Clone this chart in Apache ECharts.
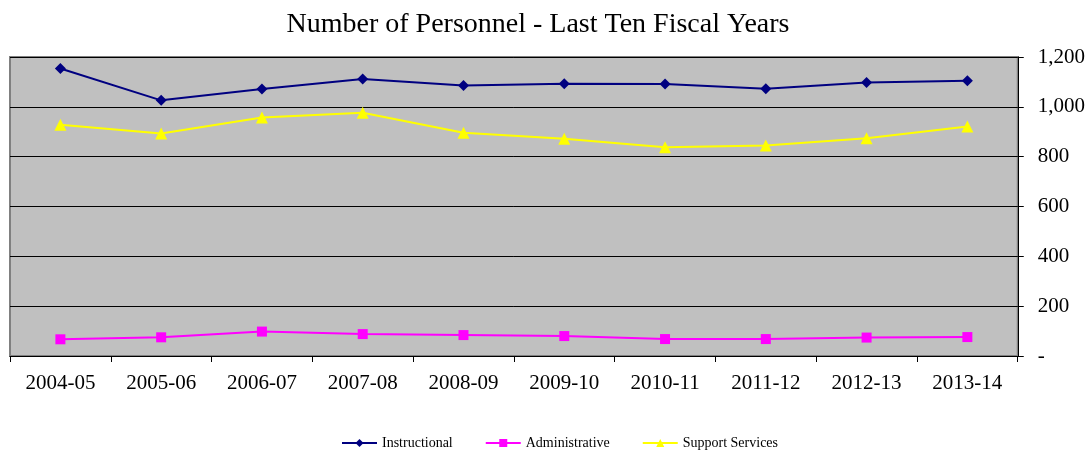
<!DOCTYPE html>
<html><head><meta charset="utf-8">
<script src="https://cdn.jsdelivr.net/npm/echarts@6/dist/echarts.min.js"></script>
<style>html,body{margin:0;padding:0;background:#fff}#c{width:1088px;height:453px}</style>
</head><body><div id="c"></div>
<script>
var categories = ['2004-05','2005-06','2006-07','2007-08','2008-09','2009-10','2010-11','2011-12','2012-13','2013-14'];
var instructional = [1154,1026,1072,1112,1086,1093,1092,1073,1098,1105];
var administrative = [67,75,98,88,84,80,68,68,74,76];
var supportServices = [928,893,957,976,896,872,838,845,874,921];
var yTicks = [0,200,400,600,800,1000,1200];

var font = '"Liberation Serif","Times New Roman",serif';
var chart = echarts.init(document.getElementById('c'));
chart.setOption({
  animation:false,
  backgroundColor:'#fff',
  title:{text:'Number of Personnel - Last Ten Fiscal Years',left:533,textAlign:'center',top:6,
    textStyle:{fontFamily:font,fontSize:28,fontWeight:'normal',color:'#000'}},
  grid:{left:10,right:70,top:57,bottom:97,show:true,backgroundColor:'#c0c0c0',borderColor:'#808080',borderWidth:2},
  legend:{bottom:3,left:341,padding:0,itemWidth:35,itemHeight:10,itemGap:32,
    textStyle:{fontFamily:font,fontSize:14,color:'#000'},
    data:['Instructional','Administrative','Support Services']},
  xAxis:{type:'category',data:categories,boundaryGap:true,
    axisLine:{lineStyle:{color:'#000',width:1}},
    axisTick:{show:true,length:6,lineStyle:{color:'#000'}},
    axisLabel:{fontFamily:font,fontSize:21,color:'#000',margin:17}},
  yAxis:{type:'value',position:'right',min:0,max:1200,interval:200,
    axisLine:{show:true,lineStyle:{color:'#000',width:1}},
    axisTick:{show:true,length:6,inside:false,lineStyle:{color:'#000'}},
    splitLine:{show:true,lineStyle:{color:'#000',width:1}},
    axisLabel:{fontFamily:font,fontSize:21,color:'#000',margin:20,
      formatter:function(v){return v===0?'-':v.toLocaleString('en-US');}}},
  series:[
    {name:'Instructional',type:'line',data:instructional,color:'#000080',symbol:'diamond',symbolSize:11,
      lineStyle:{width:2,color:'#000080'},itemStyle:{color:'#000080'}},
    {name:'Administrative',type:'line',data:administrative,color:'#ff00ff',symbol:'rect',symbolSize:10,
      lineStyle:{width:2,color:'#ff00ff'},itemStyle:{color:'#ff00ff'}},
    {name:'Support Services',type:'line',data:supportServices,color:'#ffff00',symbol:'triangle',symbolSize:12,
      lineStyle:{width:2,color:'#ffff00'},itemStyle:{color:'#ffff00'}}
  ]
});
</script></body></html>
